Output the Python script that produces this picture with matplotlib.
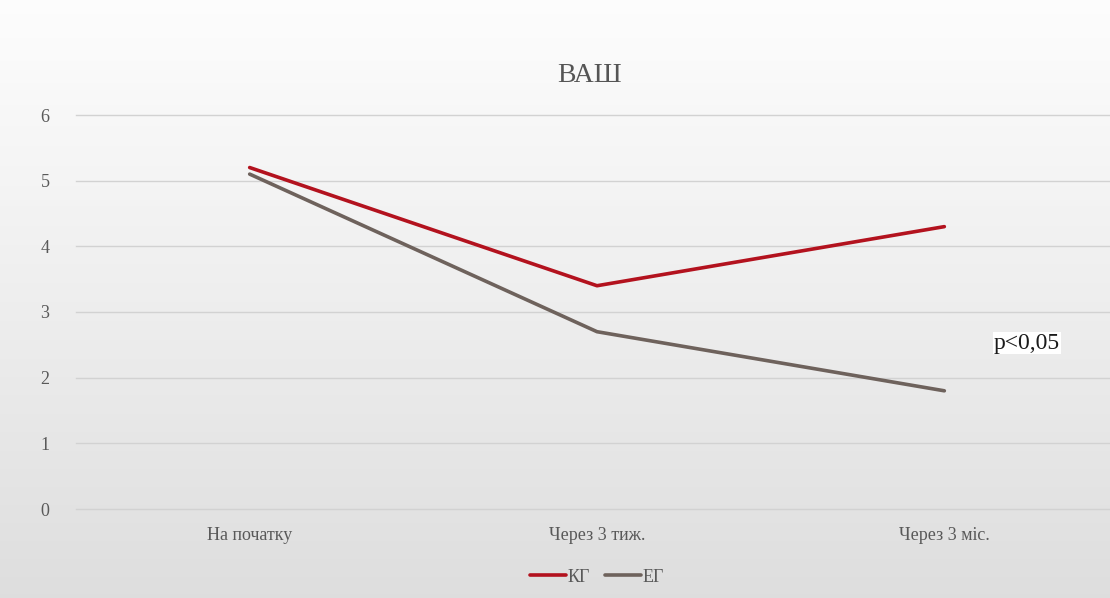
import matplotlib
matplotlib.use("Agg")
import matplotlib.pyplot as plt
import numpy as np

categories = ["На початку", "Через 3 тиж.", "Через 3 міс."]
kg_values = [5.2, 3.4, 4.3]
eg_values = [5.1, 2.7, 1.8]
y_ticks = [0, 1, 2, 3, 4, 5, 6]
title = "ВАШ"
annotation = "p<0,05"

plt.rcParams['font.family'] = ['Liberation Serif', 'DejaVu Serif']

W, H = 1110, 598
fig = plt.figure(figsize=(W / 100, H / 100), dpi=100)

# background gradient
bg = fig.add_axes([0, 0, 1, 1], zorder=0)
grad = np.linspace(0, 1, 256).reshape(-1, 1)
top = np.array([0.99, 0.99, 0.99])
bot = np.array([0.87, 0.87, 0.87])
img = top + (bot - top) * grad[:, :, None] ** 1.1
bg.imshow(img, aspect='auto', extent=[0, 1, 0, 1], origin='upper')
bg.set_axis_off()

# plot area: x from 76px to 1118px, y from 509px(0) to 115px(6)
left = 76 / W
width = (1118 - 76) / W
bottom = 1 - 509 / H
height = (509 - 115) / H
ax = fig.add_axes([left, bottom, width, height], zorder=1)
ax.patch.set_alpha(0)

for t in y_ticks:
    ax.axhline(t, color='#d2d2d2', lw=1, zorder=1, clip_on=False)

x = np.arange(len(categories))
ax.plot(x, kg_values, color='#b3121e', lw=2.6, solid_capstyle='round', zorder=3, label='КГ')
ax.plot(x, eg_values, color='#6e625c', lw=2.6, solid_capstyle='round', zorder=2, label='ЕГ')

ax.set_xlim(-0.5, 2.5)
ax.set_ylim(0, 6)
ax.set_yticks(y_ticks)
ax.set_yticklabels([str(t) for t in y_ticks], fontsize=13, color='#595959')
ax.set_xticks(x)
ax.set_xticklabels(categories, fontsize=13, color='#595959')
ax.tick_params(axis='both', length=0)
ax.tick_params(axis='y', pad=19)
ax.tick_params(axis='x', pad=13)
for s in ax.spines.values():
    s.set_visible(False)

fig.text(590 / W, 1 - 75 / H, title, fontsize=20, color='#555555', ha='center', va='center')

fig.text(1027 / W, 1 - 343 / H, annotation, fontsize=17, color='#1a1a1a', ha='center', va='center',
         bbox=dict(facecolor='white', edgecolor='none', pad=0.5))

leg = fig.legend(loc='center', bbox_to_anchor=(597 / W, 1 - 577 / H), ncol=2, frameon=False,
                 fontsize=13, handlelength=2.0, handletextpad=0.1, columnspacing=0.8)
for t in leg.get_texts():
    t.set_color('#595959')

fig.savefig("out.png", dpi=100)
